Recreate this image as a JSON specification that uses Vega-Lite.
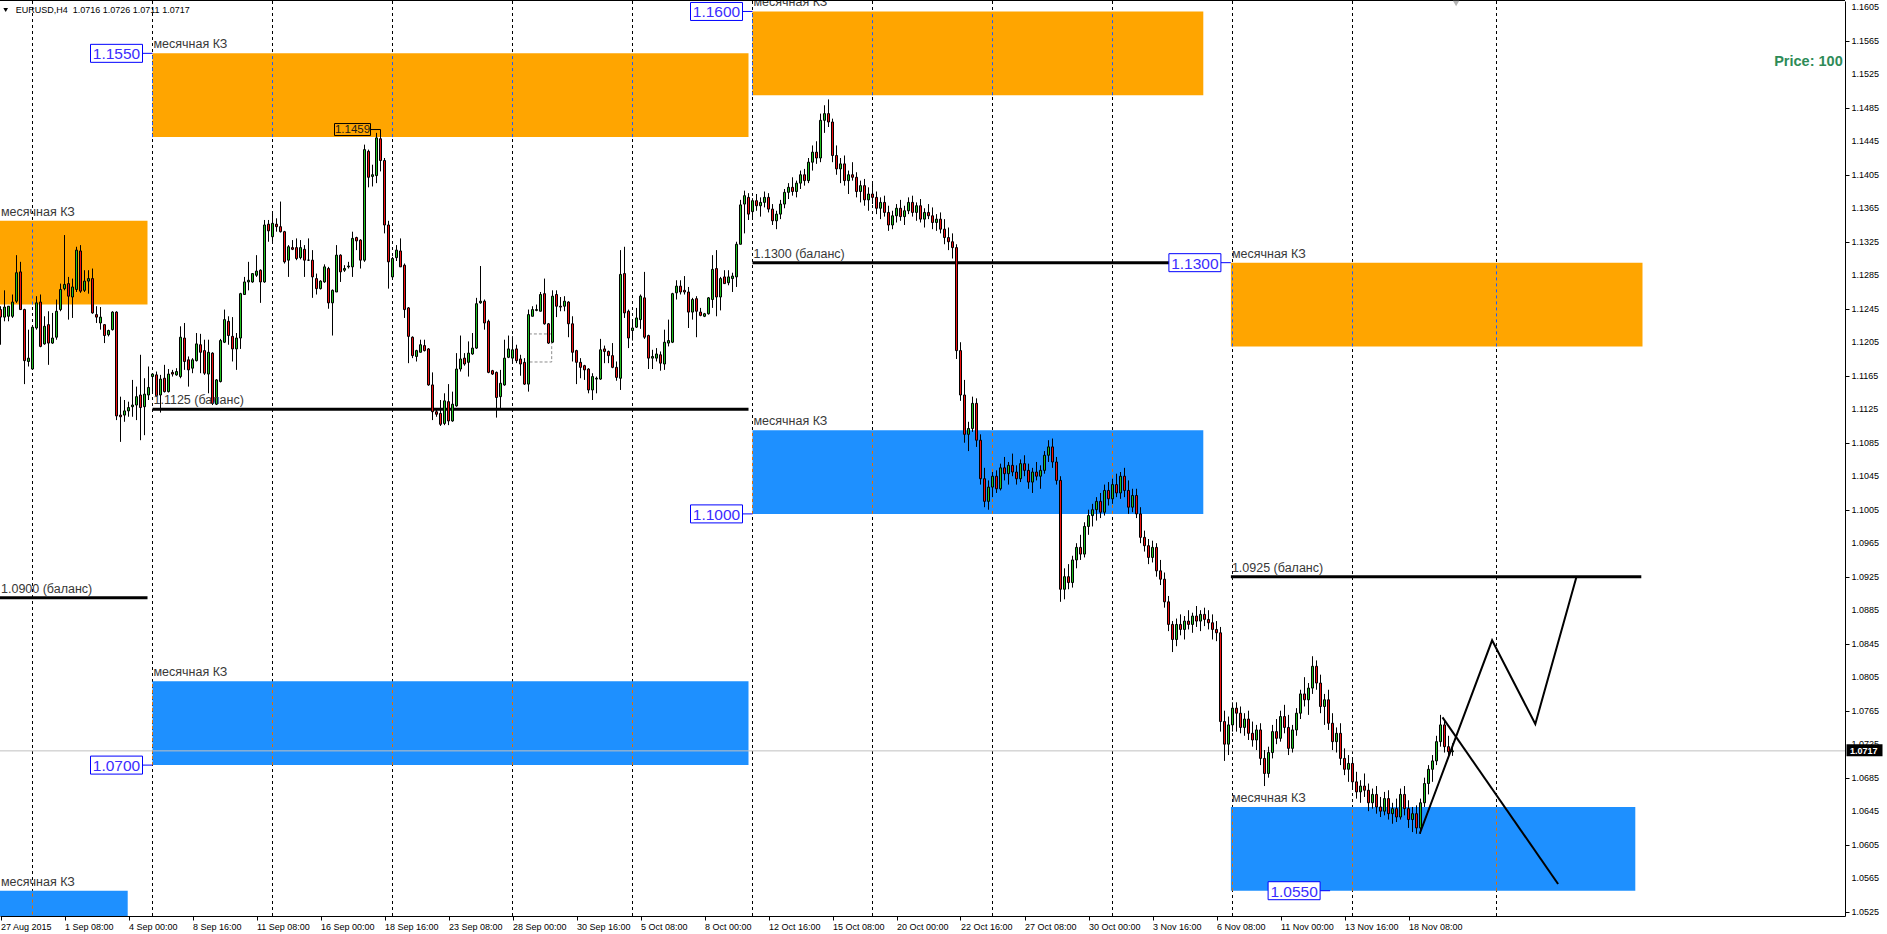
{
  "$schema": "https://vega.github.io/schema/vega-lite/v6.json",
  "width": 1845,
  "height": 915,
  "autosize": {"type": "none"},
  "padding": {"left": 0, "top": 1, "right": 42, "bottom": 18},
  "background": "#ffffff",
  "config": {
    "view": {"stroke": null},
    "text": {"font": "Liberation Sans"},
    "scale": {"continuousPadding": 0},
    "axis": {"labelOverlap": false, "labelBound": false, "labelFlush": false, "grid": false, "title": null},
    "axisY": {"labelOverlap": false, "labelSeparation": 0},
    "axisX": {"labelOverlap": false}
  },
  "datasets": {
    "bars": [
      {"i":0,"o":1.1244,"h":1.1248,"l":1.1202,"c":1.1235},{"i":1,"o":1.1235,"h":1.1267,"l":1.123,"c":1.1247},{"i":2,"o":1.1236,"h":1.1248,"l":1.123,"c":1.1248},{"i":3,"o":1.1236,"h":1.1262,"l":1.1234,"c":1.1253},{"i":4,"o":1.1254,"h":1.1309,"l":1.1252,"c":1.1288},{"i":5,"o":1.1289,"h":1.1301,"l":1.1244,"c":1.1244},{"i":6,"o":1.1244,"h":1.1245,"l":1.1155,"c":1.1183},{"i":7,"o":1.1182,"h":1.122,"l":1.1176,"c":1.1186},{"i":8,"o":1.1173,"h":1.1224,"l":1.1172,"c":1.1223},{"i":9,"o":1.1222,"h":1.126,"l":1.122,"c":1.1252},
      {"i":10,"o":1.1253,"h":1.1262,"l":1.1199,"c":1.12},{"i":11,"o":1.1203,"h":1.1236,"l":1.1202,"c":1.1224},{"i":12,"o":1.1226,"h":1.1242,"l":1.1178,"c":1.1204},{"i":13,"o":1.1204,"h":1.124,"l":1.1203,"c":1.121},{"i":14,"o":1.1211,"h":1.1256,"l":1.1208,"c":1.1242},{"i":15,"o":1.1244,"h":1.1275,"l":1.1242,"c":1.1268},{"i":16,"o":1.1269,"h":1.1333,"l":1.1267,"c":1.1274},{"i":17,"o":1.1275,"h":1.1283,"l":1.1232,"c":1.126},{"i":18,"o":1.1259,"h":1.1281,"l":1.1234,"c":1.1271},{"i":19,"o":1.1268,"h":1.1319,"l":1.1265,"c":1.1315},
      {"i":20,"o":1.1314,"h":1.1321,"l":1.1264,"c":1.1266},{"i":21,"o":1.1267,"h":1.1291,"l":1.1265,"c":1.1278},{"i":22,"o":1.1278,"h":1.1291,"l":1.1263,"c":1.1281},{"i":23,"o":1.1281,"h":1.1293,"l":1.1239,"c":1.124},{"i":24,"o":1.1238,"h":1.1248,"l":1.1228,"c":1.1235},{"i":25,"o":1.1228,"h":1.1247,"l":1.122,"c":1.1235},{"i":26,"o":1.1226,"h":1.1226,"l":1.1204,"c":1.1213},{"i":27,"o":1.1214,"h":1.122,"l":1.1212,"c":1.1219},{"i":28,"o":1.122,"h":1.1242,"l":1.1219,"c":1.1241},{"i":29,"o":1.1241,"h":1.1242,"l":1.1112,"c":1.1117},
      {"i":30,"o":1.1118,"h":1.114,"l":1.1086,"c":1.1116},{"i":31,"o":1.1118,"h":1.1136,"l":1.111,"c":1.1123},{"i":32,"o":1.1123,"h":1.1134,"l":1.1116,"c":1.1127},{"i":33,"o":1.1128,"h":1.116,"l":1.1116,"c":1.113},{"i":34,"o":1.113,"h":1.1152,"l":1.1112,"c":1.114},{"i":35,"o":1.1142,"h":1.119,"l":1.1088,"c":1.1127},{"i":36,"o":1.1128,"h":1.1162,"l":1.1094,"c":1.1143},{"i":37,"o":1.1142,"h":1.1176,"l":1.1136,"c":1.1151},{"i":38,"o":1.1164,"h":1.1168,"l":1.1144,"c":1.1167},{"i":39,"o":1.1166,"h":1.117,"l":1.114,"c":1.1141},
      {"i":40,"o":1.1142,"h":1.1166,"l":1.1121,"c":1.1161},{"i":41,"o":1.1162,"h":1.1178,"l":1.1145,"c":1.1146},{"i":42,"o":1.1146,"h":1.1173,"l":1.1145,"c":1.1167},{"i":43,"o":1.1169,"h":1.1172,"l":1.1164,"c":1.1167},{"i":44,"o":1.1166,"h":1.1174,"l":1.1165,"c":1.117},{"i":45,"o":1.1164,"h":1.1224,"l":1.1162,"c":1.1211},{"i":46,"o":1.121,"h":1.1228,"l":1.1172,"c":1.1182},{"i":47,"o":1.1184,"h":1.1188,"l":1.1152,"c":1.1172},{"i":48,"o":1.1174,"h":1.1186,"l":1.1168,"c":1.1184},{"i":49,"o":1.1183,"h":1.1216,"l":1.1182,"c":1.1203},
      {"i":50,"o":1.1202,"h":1.1215,"l":1.1168,"c":1.1193},{"i":51,"o":1.1195,"h":1.1208,"l":1.1166,"c":1.1168},{"i":52,"o":1.1167,"h":1.1208,"l":1.1144,"c":1.1193},{"i":53,"o":1.1192,"h":1.1193,"l":1.113,"c":1.1132},{"i":54,"o":1.1131,"h":1.1161,"l":1.113,"c":1.116},{"i":55,"o":1.1158,"h":1.1209,"l":1.1157,"c":1.1207},{"i":56,"o":1.1205,"h":1.1244,"l":1.1204,"c":1.1232},{"i":57,"o":1.123,"h":1.1236,"l":1.1202,"c":1.1213},{"i":58,"o":1.1212,"h":1.1235,"l":1.1182,"c":1.1197},{"i":59,"o":1.1197,"h":1.1216,"l":1.1172,"c":1.121},
      {"i":60,"o":1.121,"h":1.1264,"l":1.1197,"c":1.1263},{"i":61,"o":1.1262,"h":1.1283,"l":1.1262,"c":1.1277},{"i":62,"o":1.1277,"h":1.1301,"l":1.1267,"c":1.1279},{"i":63,"o":1.1277,"h":1.1287,"l":1.1276,"c":1.1287},{"i":64,"o":1.1285,"h":1.1309,"l":1.1283,"c":1.129},{"i":65,"o":1.1291,"h":1.1292,"l":1.1252,"c":1.1277},{"i":66,"o":1.1277,"h":1.1351,"l":1.1276,"c":1.1345},{"i":67,"o":1.1346,"h":1.1351,"l":1.1325,"c":1.1338},{"i":68,"o":1.1331,"h":1.1361,"l":1.1323,"c":1.1347},{"i":69,"o":1.1346,"h":1.1353,"l":1.1337,"c":1.1343},
      {"i":70,"o":1.1343,"h":1.1373,"l":1.1336,"c":1.1337},{"i":71,"o":1.1337,"h":1.1338,"l":1.1299,"c":1.1301},{"i":72,"o":1.1303,"h":1.1321,"l":1.1283,"c":1.1319},{"i":73,"o":1.1318,"h":1.1327,"l":1.1315,"c":1.1316},{"i":74,"o":1.1318,"h":1.1329,"l":1.1303,"c":1.1305},{"i":75,"o":1.1306,"h":1.1327,"l":1.1304,"c":1.1318},{"i":76,"o":1.1316,"h":1.1321,"l":1.1283,"c":1.1303},{"i":77,"o":1.1303,"h":1.1329,"l":1.1302,"c":1.1303},{"i":78,"o":1.1303,"h":1.1315,"l":1.1258,"c":1.1283},{"i":79,"o":1.1281,"h":1.1287,"l":1.1262,"c":1.1269},
      {"i":80,"o":1.1269,"h":1.1279,"l":1.1268,"c":1.1278},{"i":81,"o":1.1277,"h":1.1298,"l":1.1276,"c":1.1295},{"i":82,"o":1.1293,"h":1.1295,"l":1.1245,"c":1.1252},{"i":83,"o":1.1252,"h":1.1268,"l":1.1213,"c":1.1267},{"i":84,"o":1.1265,"h":1.1321,"l":1.1265,"c":1.1309},{"i":85,"o":1.1309,"h":1.131,"l":1.1277,"c":1.1289},{"i":86,"o":1.1291,"h":1.1297,"l":1.1289,"c":1.1293},{"i":87,"o":1.1295,"h":1.1301,"l":1.1293,"c":1.1296},{"i":88,"o":1.1295,"h":1.1337,"l":1.1283,"c":1.1329},{"i":89,"o":1.133,"h":1.1331,"l":1.1315,"c":1.1326},
      {"i":90,"o":1.1327,"h":1.1328,"l":1.1293,"c":1.1303},{"i":91,"o":1.1303,"h":1.1441,"l":1.1301,"c":1.1435},{"i":92,"o":1.1433,"h":1.1435,"l":1.139,"c":1.1402},{"i":93,"o":1.1403,"h":1.1417,"l":1.1391,"c":1.1405},{"i":94,"o":1.1404,"h":1.1455,"l":1.1395,"c":1.1449},{"i":95,"o":1.1448,"h":1.1459,"l":1.1409,"c":1.1422},{"i":96,"o":1.1422,"h":1.1425,"l":1.1335,"c":1.1345},{"i":97,"o":1.1345,"h":1.135,"l":1.1269,"c":1.1301},{"i":98,"o":1.1283,"h":1.1307,"l":1.1281,"c":1.1305},{"i":99,"o":1.1306,"h":1.1321,"l":1.1302,"c":1.1315},
      {"i":100,"o":1.1314,"h":1.1329,"l":1.1295,"c":1.1295},{"i":101,"o":1.1297,"h":1.1299,"l":1.1234,"c":1.1244},{"i":102,"o":1.1246,"h":1.1247,"l":1.118,"c":1.1212},{"i":103,"o":1.1211,"h":1.1212,"l":1.1186,"c":1.1189},{"i":104,"o":1.1188,"h":1.1196,"l":1.1182,"c":1.1195},{"i":105,"o":1.1193,"h":1.1208,"l":1.1193,"c":1.1202},{"i":106,"o":1.1201,"h":1.1208,"l":1.1194,"c":1.1195},{"i":107,"o":1.1197,"h":1.1198,"l":1.1153,"c":1.1154},{"i":108,"o":1.1154,"h":1.1169,"l":1.1112,"c":1.1122},{"i":109,"o":1.1122,"h":1.1124,"l":1.1116,"c":1.1119},
      {"i":110,"o":1.112,"h":1.1136,"l":1.1105,"c":1.1107},{"i":111,"o":1.1108,"h":1.1144,"l":1.1106,"c":1.1135},{"i":112,"o":1.1134,"h":1.1155,"l":1.1106,"c":1.1111},{"i":113,"o":1.1111,"h":1.1146,"l":1.111,"c":1.1131},{"i":114,"o":1.1129,"h":1.1192,"l":1.1128,"c":1.1173},{"i":115,"o":1.1173,"h":1.1213,"l":1.117,"c":1.1185},{"i":116,"o":1.1186,"h":1.1192,"l":1.1177,"c":1.1179},{"i":117,"o":1.1181,"h":1.1206,"l":1.1164,"c":1.1192},{"i":118,"o":1.1191,"h":1.1216,"l":1.119,"c":1.1198},{"i":119,"o":1.1198,"h":1.1258,"l":1.1197,"c":1.1251},
      {"i":120,"o":1.1252,"h":1.1296,"l":1.1251,"c":1.1254},{"i":121,"o":1.1254,"h":1.1256,"l":1.122,"c":1.1228},{"i":122,"o":1.123,"h":1.1232,"l":1.1168,"c":1.1169},{"i":123,"o":1.1171,"h":1.1172,"l":1.1166,"c":1.1167},{"i":124,"o":1.1169,"h":1.117,"l":1.1115,"c":1.1139},{"i":125,"o":1.114,"h":1.1172,"l":1.1126,"c":1.1156},{"i":126,"o":1.1154,"h":1.1208,"l":1.1153,"c":1.1186},{"i":127,"o":1.1187,"h":1.1213,"l":1.1186,"c":1.1197},{"i":128,"o":1.1186,"h":1.1212,"l":1.1181,"c":1.1196},{"i":129,"o":1.1197,"h":1.1202,"l":1.118,"c":1.1183},
      {"i":130,"o":1.1185,"h":1.119,"l":1.1165,"c":1.1179},{"i":131,"o":1.1181,"h":1.1186,"l":1.1154,"c":1.1155},{"i":132,"o":1.1155,"h":1.1244,"l":1.1146,"c":1.1238},{"i":133,"o":1.1236,"h":1.1248,"l":1.1236,"c":1.1244},{"i":134,"o":1.1243,"h":1.125,"l":1.1242,"c":1.1244},{"i":135,"o":1.1242,"h":1.1265,"l":1.1242,"c":1.1262},{"i":136,"o":1.1263,"h":1.1281,"l":1.1226,"c":1.1227},{"i":137,"o":1.1227,"h":1.1228,"l":1.1203,"c":1.1204},{"i":138,"o":1.1205,"h":1.1267,"l":1.1204,"c":1.126},{"i":139,"o":1.1262,"h":1.1267,"l":1.1235,"c":1.1248},
      {"i":140,"o":1.1248,"h":1.1259,"l":1.1242,"c":1.1247},{"i":141,"o":1.1248,"h":1.126,"l":1.1242,"c":1.1254},{"i":142,"o":1.1253,"h":1.1254,"l":1.1211,"c":1.1227},{"i":143,"o":1.1227,"h":1.1236,"l":1.1182,"c":1.1193},{"i":144,"o":1.1195,"h":1.1196,"l":1.1155,"c":1.1181},{"i":145,"o":1.1181,"h":1.1186,"l":1.1162,"c":1.1175},{"i":146,"o":1.1177,"h":1.1178,"l":1.116,"c":1.1172},{"i":147,"o":1.1173,"h":1.1174,"l":1.1144,"c":1.1148},{"i":148,"o":1.1148,"h":1.1168,"l":1.1136,"c":1.1164},{"i":149,"o":1.1161,"h":1.1164,"l":1.1144,"c":1.1162},
      {"i":150,"o":1.1161,"h":1.1209,"l":1.116,"c":1.1196},{"i":151,"o":1.1197,"h":1.1201,"l":1.118,"c":1.1194},{"i":152,"o":1.1194,"h":1.1195,"l":1.118,"c":1.1189},{"i":153,"o":1.1189,"h":1.1204,"l":1.1174,"c":1.1175},{"i":154,"o":1.1175,"h":1.1182,"l":1.1159,"c":1.1163},{"i":155,"o":1.1162,"h":1.1315,"l":1.1148,"c":1.1286},{"i":156,"o":1.1287,"h":1.1319,"l":1.1234,"c":1.124},{"i":157,"o":1.1242,"h":1.1244,"l":1.1198,"c":1.121},{"i":158,"o":1.1219,"h":1.1232,"l":1.1207,"c":1.1222},{"i":159,"o":1.1223,"h":1.1246,"l":1.1222,"c":1.1234},
      {"i":160,"o":1.1232,"h":1.1262,"l":1.1221,"c":1.126},{"i":161,"o":1.1258,"h":1.1289,"l":1.1209,"c":1.1211},{"i":162,"o":1.1213,"h":1.1214,"l":1.1173,"c":1.1186},{"i":163,"o":1.1186,"h":1.1196,"l":1.1173,"c":1.1188},{"i":164,"o":1.1186,"h":1.1198,"l":1.1182,"c":1.1191},{"i":165,"o":1.119,"h":1.1194,"l":1.1171,"c":1.118},{"i":166,"o":1.1179,"h":1.122,"l":1.1172,"c":1.1205},{"i":167,"o":1.1204,"h":1.1232,"l":1.12,"c":1.1207},{"i":168,"o":1.1205,"h":1.1264,"l":1.1204,"c":1.1263},{"i":169,"o":1.1264,"h":1.1279,"l":1.1256,"c":1.1272},
      {"i":170,"o":1.1272,"h":1.1279,"l":1.1262,"c":1.1265},{"i":171,"o":1.1267,"h":1.1284,"l":1.1262,"c":1.1265},{"i":172,"o":1.1265,"h":1.1271,"l":1.1222,"c":1.1241},{"i":173,"o":1.1241,"h":1.1258,"l":1.1232,"c":1.1256},{"i":174,"o":1.1257,"h":1.126,"l":1.1211,"c":1.1242},{"i":175,"o":1.1241,"h":1.1246,"l":1.1236,"c":1.1237},{"i":176,"o":1.1236,"h":1.124,"l":1.1235,"c":1.1239},{"i":177,"o":1.1239,"h":1.1259,"l":1.1238,"c":1.1258},{"i":178,"o":1.1256,"h":1.1309,"l":1.1246,"c":1.1292},{"i":179,"o":1.1293,"h":1.1315,"l":1.1236,"c":1.1259},
      {"i":180,"o":1.1259,"h":1.1283,"l":1.1243,"c":1.1281},{"i":181,"o":1.1283,"h":1.1291,"l":1.1275,"c":1.1275},{"i":182,"o":1.1276,"h":1.1291,"l":1.1273,"c":1.1283},{"i":183,"o":1.1281,"h":1.1288,"l":1.1265,"c":1.1284},{"i":184,"o":1.1283,"h":1.1325,"l":1.1271,"c":1.1322},{"i":185,"o":1.1322,"h":1.1375,"l":1.1322,"c":1.1369},{"i":186,"o":1.137,"h":1.1386,"l":1.1335,"c":1.138},{"i":187,"o":1.1378,"h":1.1383,"l":1.1351,"c":1.1358},{"i":188,"o":1.1361,"h":1.1377,"l":1.1352,"c":1.1374},{"i":189,"o":1.1374,"h":1.1382,"l":1.1362,"c":1.1368},
      {"i":190,"o":1.1368,"h":1.1378,"l":1.1355,"c":1.1372},{"i":191,"o":1.1372,"h":1.1385,"l":1.1366,"c":1.1378},{"i":192,"o":1.1378,"h":1.1383,"l":1.136,"c":1.1364},{"i":193,"o":1.1364,"h":1.137,"l":1.1345,"c":1.135},{"i":194,"o":1.135,"h":1.1362,"l":1.134,"c":1.1358},{"i":195,"o":1.1358,"h":1.1375,"l":1.1352,"c":1.137},{"i":196,"o":1.137,"h":1.1388,"l":1.1365,"c":1.1384},{"i":197,"o":1.1384,"h":1.1395,"l":1.1376,"c":1.139},{"i":198,"o":1.139,"h":1.1402,"l":1.138,"c":1.1385},{"i":199,"o":1.1385,"h":1.1398,"l":1.1378,"c":1.1395},
      {"i":200,"o":1.1395,"h":1.141,"l":1.1388,"c":1.1405},{"i":201,"o":1.1405,"h":1.1412,"l":1.1392,"c":1.1398},{"i":202,"o":1.1398,"h":1.1425,"l":1.1395,"c":1.142},{"i":203,"o":1.142,"h":1.144,"l":1.141,"c":1.1432},{"i":204,"o":1.1432,"h":1.1445,"l":1.1418,"c":1.1425},{"i":205,"o":1.1425,"h":1.1478,"l":1.142,"c":1.147},{"i":206,"o":1.147,"h":1.1488,"l":1.1455,"c":1.1478},{"i":207,"o":1.1478,"h":1.1495,"l":1.1462,"c":1.1468},{"i":208,"o":1.1468,"h":1.1472,"l":1.142,"c":1.1428},{"i":209,"o":1.1428,"h":1.144,"l":1.1405,"c":1.1412},
      {"i":210,"o":1.1412,"h":1.1425,"l":1.1395,"c":1.1418},{"i":211,"o":1.1418,"h":1.1428,"l":1.1392,"c":1.1398},{"i":212,"o":1.1398,"h":1.141,"l":1.1382,"c":1.1405},{"i":213,"o":1.1405,"h":1.142,"l":1.1398,"c":1.1402},{"i":214,"o":1.1402,"h":1.1408,"l":1.1378,"c":1.1385},{"i":215,"o":1.1385,"h":1.1398,"l":1.1372,"c":1.1392},{"i":216,"o":1.1392,"h":1.14,"l":1.1368,"c":1.1375},{"i":217,"o":1.1375,"h":1.139,"l":1.1362,"c":1.1382},{"i":218,"o":1.1382,"h":1.1395,"l":1.137,"c":1.1378},{"i":219,"o":1.1378,"h":1.1385,"l":1.1358,"c":1.1365},
      {"i":220,"o":1.1365,"h":1.1378,"l":1.1352,"c":1.1372},{"i":221,"o":1.1372,"h":1.138,"l":1.1355,"c":1.136},{"i":222,"o":1.136,"h":1.1368,"l":1.1338,"c":1.1345},{"i":223,"o":1.1345,"h":1.1362,"l":1.134,"c":1.1356},{"i":224,"o":1.1356,"h":1.137,"l":1.1348,"c":1.1365},{"i":225,"o":1.1365,"h":1.1375,"l":1.135,"c":1.1355},{"i":226,"o":1.1355,"h":1.1368,"l":1.1345,"c":1.1362},{"i":227,"o":1.1362,"h":1.1378,"l":1.1358,"c":1.1372},{"i":228,"o":1.1372,"h":1.138,"l":1.1355,"c":1.136},{"i":229,"o":1.136,"h":1.1372,"l":1.135,"c":1.1368},
      {"i":230,"o":1.1368,"h":1.1376,"l":1.1348,"c":1.1352},{"i":231,"o":1.1352,"h":1.1365,"l":1.1342,"c":1.136},{"i":232,"o":1.136,"h":1.137,"l":1.1352,"c":1.1356},{"i":233,"o":1.1356,"h":1.1366,"l":1.134,"c":1.1348},{"i":234,"o":1.1348,"h":1.1358,"l":1.1338,"c":1.1352},{"i":235,"o":1.1352,"h":1.136,"l":1.1335,"c":1.134},{"i":236,"o":1.134,"h":1.1352,"l":1.1322,"c":1.133},{"i":237,"o":1.133,"h":1.1342,"l":1.1315,"c":1.1325},{"i":238,"o":1.1325,"h":1.1335,"l":1.1305,"c":1.1318},{"i":239,"o":1.1318,"h":1.1322,"l":1.1185,"c":1.1195},
      {"i":240,"o":1.1195,"h":1.1205,"l":1.1135,"c":1.1142},{"i":241,"o":1.1142,"h":1.116,"l":1.1085,"c":1.1095},{"i":242,"o":1.1095,"h":1.111,"l":1.1075,"c":1.1102},{"i":243,"o":1.1102,"h":1.114,"l":1.1098,"c":1.1132},{"i":244,"o":1.1132,"h":1.1138,"l":1.108,"c":1.1088},{"i":245,"o":1.1088,"h":1.1095,"l":1.1035,"c":1.1042},{"i":246,"o":1.1042,"h":1.1055,"l":1.1008,"c":1.1015},{"i":247,"o":1.1015,"h":1.104,"l":1.1005,"c":1.1032},{"i":248,"o":1.1032,"h":1.105,"l":1.102,"c":1.1045},{"i":249,"o":1.1045,"h":1.1052,"l":1.1025,"c":1.103},
      {"i":250,"o":1.103,"h":1.106,"l":1.1028,"c":1.1055},{"i":251,"o":1.1055,"h":1.1068,"l":1.104,"c":1.1048},{"i":252,"o":1.1048,"h":1.1062,"l":1.1035,"c":1.1058},{"i":253,"o":1.1058,"h":1.1072,"l":1.1045,"c":1.105},{"i":254,"o":1.105,"h":1.1058,"l":1.1035,"c":1.1042},{"i":255,"o":1.1042,"h":1.1065,"l":1.1038,"c":1.106},{"i":256,"o":1.106,"h":1.107,"l":1.1045,"c":1.1052},{"i":257,"o":1.1052,"h":1.106,"l":1.103,"c":1.1038},{"i":258,"o":1.1038,"h":1.1055,"l":1.1025,"c":1.105},{"i":259,"o":1.105,"h":1.1062,"l":1.104,"c":1.1045},
      {"i":260,"o":1.1045,"h":1.1058,"l":1.103,"c":1.1052},{"i":261,"o":1.1052,"h":1.1075,"l":1.1048,"c":1.107},{"i":262,"o":1.107,"h":1.1088,"l":1.1062,"c":1.108},{"i":263,"o":1.108,"h":1.109,"l":1.1055,"c":1.1062},{"i":264,"o":1.1062,"h":1.1068,"l":1.1035,"c":1.104},{"i":265,"o":1.104,"h":1.1045,"l":1.0895,"c":1.091},{"i":266,"o":1.091,"h":1.0935,"l":1.0898,"c":1.0925},{"i":267,"o":1.0925,"h":1.094,"l":1.091,"c":1.0918},{"i":268,"o":1.0918,"h":1.095,"l":1.0912,"c":1.0945},{"i":269,"o":1.0945,"h":1.0965,"l":1.0935,"c":1.096},
      {"i":270,"o":1.096,"h":1.0975,"l":1.0945,"c":1.0952},{"i":271,"o":1.0952,"h":1.099,"l":1.0948,"c":1.0985},{"i":272,"o":1.0985,"h":1.1005,"l":1.0975,"c":1.0998},{"i":273,"o":1.0998,"h":1.1012,"l":1.0985,"c":1.1005},{"i":274,"o":1.1005,"h":1.102,"l":1.0992,"c":1.1015},{"i":275,"o":1.1015,"h":1.1025,"l":1.0995,"c":1.1002},{"i":276,"o":1.1002,"h":1.1035,"l":1.0998,"c":1.1028},{"i":277,"o":1.1028,"h":1.1038,"l":1.101,"c":1.1018},{"i":278,"o":1.1018,"h":1.1042,"l":1.1012,"c":1.1035},{"i":279,"o":1.1035,"h":1.1048,"l":1.102,"c":1.1025},
      {"i":280,"o":1.1025,"h":1.105,"l":1.1018,"c":1.1045},{"i":281,"o":1.1045,"h":1.1055,"l":1.102,"c":1.1028},{"i":282,"o":1.1028,"h":1.104,"l":1.1,"c":1.1008},{"i":283,"o":1.1008,"h":1.103,"l":1.1002,"c":1.1022},{"i":284,"o":1.1022,"h":1.103,"l":1.0995,"c":1.1},{"i":285,"o":1.1,"h":1.1008,"l":1.0965,"c":1.0972},{"i":286,"o":1.0972,"h":1.098,"l":1.0955,"c":1.0962},{"i":287,"o":1.0962,"h":1.097,"l":1.094,"c":1.0948},{"i":288,"o":1.0948,"h":1.0968,"l":1.0942,"c":1.096},{"i":289,"o":1.096,"h":1.0965,"l":1.0925,"c":1.0932},
      {"i":290,"o":1.0932,"h":1.0945,"l":1.0915,"c":1.0922},{"i":291,"o":1.0922,"h":1.093,"l":1.0888,"c":1.0895},{"i":292,"o":1.0895,"h":1.0902,"l":1.086,"c":1.0868},{"i":293,"o":1.0868,"h":1.0872,"l":1.0835,"c":1.085},{"i":294,"o":1.085,"h":1.0875,"l":1.0842,"c":1.0868},{"i":295,"o":1.0868,"h":1.088,"l":1.0855,"c":1.0862},{"i":296,"o":1.0862,"h":1.0878,"l":1.085,"c":1.0872},{"i":297,"o":1.0872,"h":1.0885,"l":1.0862,"c":1.0868},{"i":298,"o":1.0868,"h":1.0882,"l":1.0858,"c":1.0878},{"i":299,"o":1.0878,"h":1.089,"l":1.0865,"c":1.0872},
      {"i":300,"o":1.0872,"h":1.0885,"l":1.086,"c":1.088},{"i":301,"o":1.088,"h":1.0888,"l":1.0866,"c":1.0874},{"i":302,"o":1.0874,"h":1.0885,"l":1.0862,"c":1.087},{"i":303,"o":1.087,"h":1.088,"l":1.085,"c":1.0862},{"i":304,"o":1.0862,"h":1.0872,"l":1.0848,"c":1.0858},{"i":305,"o":1.0858,"h":1.0865,"l":1.074,"c":1.0752},{"i":306,"o":1.0752,"h":1.0765,"l":1.0705,"c":1.0725},{"i":307,"o":1.0725,"h":1.0758,"l":1.0712,"c":1.0748},{"i":308,"o":1.0748,"h":1.0775,"l":1.074,"c":1.0768},{"i":309,"o":1.0768,"h":1.0775,"l":1.074,"c":1.0762},
      {"i":310,"o":1.0762,"h":1.077,"l":1.0738,"c":1.0745},{"i":311,"o":1.0745,"h":1.0762,"l":1.0735,"c":1.0755},{"i":312,"o":1.0755,"h":1.0765,"l":1.073,"c":1.0738},{"i":313,"o":1.0738,"h":1.0752,"l":1.0722,"c":1.073},{"i":314,"o":1.073,"h":1.0748,"l":1.0718,"c":1.0742},{"i":315,"o":1.0742,"h":1.075,"l":1.07,"c":1.0708},{"i":316,"o":1.0708,"h":1.0718,"l":1.0675,"c":1.069},{"i":317,"o":1.069,"h":1.0722,"l":1.0685,"c":1.0715},{"i":318,"o":1.0715,"h":1.0748,"l":1.0708,"c":1.074},{"i":319,"o":1.074,"h":1.0755,"l":1.0725,"c":1.0732},
      {"i":320,"o":1.0732,"h":1.0765,"l":1.0728,"c":1.0758},{"i":321,"o":1.0758,"h":1.0772,"l":1.0738,"c":1.0745},{"i":322,"o":1.0745,"h":1.076,"l":1.0712,"c":1.072},{"i":323,"o":1.072,"h":1.0748,"l":1.0715,"c":1.0742},{"i":324,"o":1.0742,"h":1.0768,"l":1.0735,"c":1.0762},{"i":325,"o":1.0762,"h":1.079,"l":1.0755,"c":1.0785},{"i":326,"o":1.0785,"h":1.0805,"l":1.077,"c":1.0778},{"i":327,"o":1.0778,"h":1.0798,"l":1.076,"c":1.0792},{"i":328,"o":1.0792,"h":1.083,"l":1.0785,"c":1.0818},{"i":329,"o":1.0818,"h":1.0825,"l":1.079,"c":1.0798},
      {"i":330,"o":1.0798,"h":1.0808,"l":1.0762,"c":1.077},{"i":331,"o":1.077,"h":1.0785,"l":1.0748,"c":1.0778},{"i":332,"o":1.0778,"h":1.079,"l":1.0742,"c":1.075},{"i":333,"o":1.075,"h":1.0762,"l":1.0718,"c":1.0728},{"i":334,"o":1.0728,"h":1.0745,"l":1.0715,"c":1.0738},{"i":335,"o":1.0738,"h":1.075,"l":1.07,"c":1.0708},{"i":336,"o":1.0708,"h":1.072,"l":1.0688,"c":1.0695},{"i":337,"o":1.0695,"h":1.0712,"l":1.068,"c":1.0702},{"i":338,"o":1.0702,"h":1.0708,"l":1.0672,"c":1.068},{"i":339,"o":1.068,"h":1.0692,"l":1.066,"c":1.0668},
      {"i":340,"o":1.0668,"h":1.0682,"l":1.0655,"c":1.0675},{"i":341,"o":1.0675,"h":1.069,"l":1.0662,"c":1.067},{"i":342,"o":1.067,"h":1.0678,"l":1.0645,"c":1.0655},{"i":343,"o":1.0655,"h":1.0672,"l":1.0648,"c":1.0665},{"i":344,"o":1.0665,"h":1.0675,"l":1.0642,"c":1.065},{"i":345,"o":1.065,"h":1.0662,"l":1.0638,"c":1.0645},{"i":346,"o":1.0645,"h":1.0668,"l":1.064,"c":1.066},{"i":347,"o":1.066,"h":1.067,"l":1.0635,"c":1.0642},{"i":348,"o":1.0642,"h":1.0655,"l":1.063,"c":1.0648},{"i":349,"o":1.0648,"h":1.066,"l":1.0632,"c":1.0638},
      {"i":350,"o":1.0638,"h":1.0672,"l":1.0635,"c":1.0665},{"i":351,"o":1.0665,"h":1.0675,"l":1.064,"c":1.0648},{"i":352,"o":1.0648,"h":1.0658,"l":1.0625,"c":1.0635},{"i":353,"o":1.0635,"h":1.065,"l":1.062,"c":1.0642},{"i":354,"o":1.0642,"h":1.0652,"l":1.0618,"c":1.0625},{"i":355,"o":1.0625,"h":1.066,"l":1.0618,"c":1.0655},{"i":356,"o":1.0655,"h":1.0685,"l":1.065,"c":1.0678},{"i":357,"o":1.0678,"h":1.07,"l":1.0665,"c":1.0695},{"i":358,"o":1.0695,"h":1.0712,"l":1.068,"c":1.0705},{"i":359,"o":1.0705,"h":1.0735,"l":1.07,"c":1.0728},
      {"i":360,"o":1.0728,"h":1.076,"l":1.0722,"c":1.0748},{"i":361,"o":1.0748,"h":1.0755,"l":1.0715,"c":1.0722},{"i":362,"o":1.0722,"h":1.0735,"l":1.0712,"c":1.0716},{"i":363,"o":1.0716,"h":1.0726,"l":1.0711,"c":1.0717}
    ],
    "zones": [
      {"z":"o","b0":-0.125,"b1":36.75,"p0":1.125,"p1":1.135},
      {"z":"b","b0":-0.125,"b1":31.8,"p0":1.05,"p1":1.055},
      {"z":"o","b0":38,"b1":187,"p0":1.145,"p1":1.155},
      {"z":"b","b0":38,"b1":187,"p0":1.07,"p1":1.08},
      {"z":"o","b0":188,"b1":300.7,"p0":1.15,"p1":1.16},
      {"z":"b","b0":188,"b1":300.7,"p0":1.1,"p1":1.11},
      {"z":"o","b0":307.6,"b1":410.5,"p0":1.12,"p1":1.13},
      {"z":"b","b0":307.6,"b1":408.7,"p0":1.055,"p1":1.065}
    ],
    "levels": [
      {"b0":-0.125,"b1":36.75,"p":1.09,"t":"1.0900 (баланс)"},
      {"b0":38,"b1":187,"p":1.1125,"t":"1.1125 (баланс)"},
      {"b0":188,"b1":300.7,"p":1.13,"t":"1.1300 (баланс)"},
      {"b0":307.6,"b1":410.2,"p":1.0925,"t":"1.0925 (баланс)"}
    ],
    "tags": [
      {"b":38,"p":1.155,"t":"1.1550"},
      {"b":38,"p":1.07,"t":"1.0700"},
      {"b":188,"p":1.16,"t":"1.1600"},
      {"b":188,"p":1.1,"t":"1.1000"},
      {"b":307.6,"p":1.13,"t":"1.1300"},
      {"b":332.4,"p":1.055,"t":"1.0550"}
    ],
    "ticksY": [
      {"p":1.0525,"t":"1.0525"},{"p":1.0565,"t":"1.0565"},{"p":1.0605,"t":"1.0605"},{"p":1.0645,"t":"1.0645"},{"p":1.0685,"t":"1.0685"},{"p":1.0725,"t":"1.0725"},{"p":1.0765,"t":"1.0765"},
      {"p":1.0805,"t":"1.0805"},{"p":1.0845,"t":"1.0845"},{"p":1.0885,"t":"1.0885"},{"p":1.0925,"t":"1.0925"},{"p":1.0965,"t":"1.0965"},{"p":1.1005,"t":"1.1005"},{"p":1.1045,"t":"1.1045"},
      {"p":1.1085,"t":"1.1085"},{"p":1.1125,"t":"1.1125"},{"p":1.1165,"t":"1.1165"},{"p":1.1205,"t":"1.1205"},{"p":1.1245,"t":"1.1245"},{"p":1.1285,"t":"1.1285"},{"p":1.1325,"t":"1.1325"},
      {"p":1.1365,"t":"1.1365"},{"p":1.1405,"t":"1.1405"},{"p":1.1445,"t":"1.1445"},{"p":1.1485,"t":"1.1485"},{"p":1.1525,"t":"1.1525"},{"p":1.1565,"t":"1.1565"},{"p":1.1605,"t":"1.1605"}
    ],
    "seps": [{"b":8},{"b":38},{"b":68},{"b":98},{"b":128},{"b":158},{"b":188},{"b":218},{"b":248},{"b":278},{"b":308},{"b":338},{"b":374}],
    "sepsOver": [
      {"b":8,"z":"o","p0":1.125,"p1":1.135},{"b":8,"z":"b","p0":1.05,"p1":1.055},
      {"b":38,"z":"o","p0":1.145,"p1":1.155},{"b":68,"z":"o","p0":1.145,"p1":1.155},{"b":98,"z":"o","p0":1.145,"p1":1.155},{"b":128,"z":"o","p0":1.145,"p1":1.155},{"b":158,"z":"o","p0":1.145,"p1":1.155},
      {"b":38,"z":"b","p0":1.07,"p1":1.08},{"b":68,"z":"b","p0":1.07,"p1":1.08},{"b":98,"z":"b","p0":1.07,"p1":1.08},{"b":128,"z":"b","p0":1.07,"p1":1.08},{"b":158,"z":"b","p0":1.07,"p1":1.08},
      {"b":188,"z":"o","p0":1.15,"p1":1.16},{"b":218,"z":"o","p0":1.15,"p1":1.16},{"b":248,"z":"o","p0":1.15,"p1":1.16},{"b":278,"z":"o","p0":1.15,"p1":1.16},
      {"b":188,"z":"b","p0":1.1,"p1":1.11},{"b":218,"z":"b","p0":1.1,"p1":1.11},{"b":248,"z":"b","p0":1.1,"p1":1.11},{"b":278,"z":"b","p0":1.1,"p1":1.11},
      {"b":308,"z":"o","p0":1.12,"p1":1.13},{"b":338,"z":"o","p0":1.12,"p1":1.13},{"b":374,"z":"o","p0":1.12,"p1":1.13},
      {"b":308,"z":"b","p0":1.055,"p1":1.065},{"b":338,"z":"b","p0":1.055,"p1":1.065},{"b":374,"z":"b","p0":1.055,"p1":1.065}
    ],
    "plan": [
      {"s":"up","k":0,"b":354.8,"p":1.0618},{"s":"up","k":1,"b":372.9,"p":1.0849},{"s":"up","k":2,"b":383.7,"p":1.0749},{"s":"up","k":3,"b":394.0,"p":1.0925},
      {"s":"down","k":0,"b":360.5,"p":1.0757},{"s":"down","k":1,"b":389.4,"p":1.0558}
    ],
    "ghost": [{"b0":132.1,"b1":137.8,"p0":1.11814,"p1":1.12149}],
    "peak": [{"b":95,"p":1.1459,"t":"1.1459"}],
    "quote": [{"sym":"EURUSD,H4\u00a0\u00a01.0716 1.0726 1.0711 1.0717","last":1.0717,"lastText":"1.0717","b":3.8,"p":1.15982}],
    "note": [{"t":"Price: 100","b":460.55,"p":1.15352}],
    "marker": [{"b":363.9,"p":1.16094}],
    "frame": [{"p":1.16125}]
  },
  "layer": [
    {
      "data": {"name": "seps"},
      "mark": {"type": "rule", "color": "#000000", "strokeWidth": 1, "strokeDash": [3, 3]},
      "encoding": {
        "x": {"field": "b", "type": "quantitative", "scale": {"domain": [-0.125, 461.125], "nice": false, "zero": false, "padding": 0},
          "axis": {"orient": "bottom", "title": null, "grid": false,
            "values": [0,16,32,48,64,80,96,112,128,144,160,176,192,208,224,240,256,272,288,304,320,336,352],
            "labelExpr": "['27 Aug 2015','1 Sep 08:00','4 Sep 00:00','8 Sep 16:00','11 Sep 08:00','16 Sep 00:00','18 Sep 16:00','23 Sep 08:00','28 Sep 00:00','30 Sep 16:00','5 Oct 08:00','8 Oct 00:00','12 Oct 16:00','15 Oct 08:00','20 Oct 00:00','22 Oct 16:00','27 Oct 08:00','30 Oct 00:00','3 Nov 16:00','6 Nov 08:00','11 Nov 00:00','13 Nov 16:00','18 Nov 08:00'][round(datum.value / 16)]",
            "domain": true, "ticks": true, "labels": true,
            "domainColor": "#000000", "domainWidth": 1, "tickColor": "#000000", "tickSize": 4, "tickWidth": 1,
            "labelColor": "#000000", "labelFont": "Liberation Sans", "labelFontSize": 9, "labelAlign": "left", "labelBaseline": "top",
            "labelPadding": 2, "labelOffset": 0, "labelOverlap": false, "labelBound": false, "labelFlush": false, "zindex": 1}}
      }
    },
    {
      "data": {"name": "zones"},
      "mark": {"type": "rect", "clip": true},
      "encoding": {
        "x": {"field": "b0", "type": "quantitative", "scale": {"domain": [-0.125, 461.125], "nice": false, "zero": false, "padding": 0}},
        "x2": {"field": "b1"},
        "y": {"field": "p0", "type": "quantitative", "scale": {"domain": [1.05198, 1.16125], "nice": false, "zero": false, "padding": 0},
          "axis": {"orient": "right", "title": null, "grid": false,
            "values": [1.0525,1.0565,1.0605,1.0645,1.0685,1.0725,1.0765,1.0805,1.0845,1.0885,1.0925,1.0965,1.1005,1.1045,1.1085,1.1125,1.1165,1.1205,1.1245,1.1285,1.1325,1.1365,1.1405,1.1445,1.1485,1.1525,1.1565,1.1605],
            "domain": true, "ticks": true, "labels": false,
            "domainColor": "#000000", "domainWidth": 1, "tickColor": "#000000", "tickSize": 4, "tickWidth": 1}},
        "y2": {"field": "p1"},
        "color": {"condition": {"test": "datum.z === 'o'", "value": "#ffa500"}, "value": "#1e90ff"}
      }
    },
    {
      "data": {"name": "sepsOver"},
      "mark": {"type": "rule", "strokeWidth": 1, "strokeDash": [3, 3], "clip": true},
      "encoding": {
        "x": {"field": "b", "type": "quantitative"},
        "y": {"field": "p0", "type": "quantitative"},
        "y2": {"field": "p1"},
        "color": {"condition": {"test": "datum.z === 'o'", "value": "#1a5cff"}, "value": "#e26f00"}
      }
    },
    {
      "data": {"name": "ghost"},
      "mark": {"type": "rect", "fill": null, "fillOpacity": 0, "stroke": "#8c8c8c", "strokeWidth": 1, "strokeDash": [3, 2]},
      "encoding": {
        "x": {"field": "b0", "type": "quantitative"},
        "x2": {"field": "b1"},
        "y": {"field": "p0", "type": "quantitative"},
        "y2": {"field": "p1"}
      }
    },
    {
      "data": {"name": "levels"},
      "mark": {"type": "rule", "color": "#000000", "strokeWidth": 3},
      "encoding": {
        "x": {"field": "b0", "type": "quantitative"},
        "x2": {"field": "b1"},
        "y": {"field": "p", "type": "quantitative"}
      }
    },
    {
      "data": {"name": "quote"},
      "mark": {"type": "rule", "color": "#c0c0c0", "strokeWidth": 1},
      "encoding": {
        "y": {"field": "last", "type": "quantitative"}
      }
    },
    {
      "data": {"name": "bars"},
      "mark": {"type": "rule", "color": "#000000", "strokeWidth": 1},
      "encoding": {
        "x": {"field": "i", "type": "quantitative"},
        "y": {"field": "l", "type": "quantitative"},
        "y2": {"field": "h"}
      }
    },
    {
      "data": {"name": "bars"},
      "mark": {"type": "bar", "size": 2, "stroke": "#000000", "strokeWidth": 1},
      "encoding": {
        "x": {"field": "i", "type": "quantitative"},
        "y": {"field": "o", "type": "quantitative"},
        "y2": {"field": "c"},
        "fill": {"condition": {"test": "datum.c >= datum.o", "value": "#1fc01f"}, "value": "#f01010"}
      }
    },
    {
      "data": {"name": "plan"},
      "mark": {"type": "line", "color": "#000000", "strokeWidth": 2},
      "encoding": {
        "x": {"field": "b", "type": "quantitative"},
        "y": {"field": "p", "type": "quantitative"},
        "detail": {"field": "s"},
        "order": {"field": "k", "type": "quantitative"}
      }
    },
    {
      "data": {"name": "zones"},
      "mark": {"type": "text", "text": "месячная КЗ", "font": "Liberation Sans", "fontSize": 12.5, "color": "#383838", "align": "left", "baseline": "alphabetic", "dx": 1, "dy": -5},
      "encoding": {
        "x": {"field": "b0", "type": "quantitative"},
        "y": {"field": "p1", "type": "quantitative"}
      }
    },
    {
      "data": {"name": "levels"},
      "mark": {"type": "text", "font": "Liberation Sans", "fontSize": 12.5, "color": "#383838", "align": "left", "baseline": "alphabetic", "dx": 1, "dy": -5},
      "encoding": {
        "x": {"field": "b0", "type": "quantitative"},
        "y": {"field": "p", "type": "quantitative"},
        "text": {"field": "t"}
      }
    },
    {
      "data": {"name": "tags"},
      "mark": {"type": "rule", "color": "#0000ff", "strokeWidth": 1, "xOffset": -10, "x2Offset": 0},
      "encoding": {
        "x": {"field": "b", "type": "quantitative"},
        "x2": {"field": "b"},
        "y": {"field": "p", "type": "quantitative"}
      }
    },
    {
      "data": {"name": "tags"},
      "mark": {"type": "rect", "fill": "#ffffff", "stroke": "#0000ff", "strokeWidth": 1, "xOffset": -62, "x2Offset": -10, "yOffset": -9, "y2Offset": 9},
      "encoding": {
        "x": {"field": "b", "type": "quantitative"},
        "x2": {"field": "b"},
        "y": {"field": "p", "type": "quantitative"},
        "y2": {"field": "p"}
      }
    },
    {
      "data": {"name": "tags"},
      "mark": {"type": "text", "font": "Liberation Sans", "fontSize": 15.5, "color": "#3b2cff", "align": "center", "baseline": "middle", "dx": -36, "dy": 1},
      "encoding": {
        "x": {"field": "b", "type": "quantitative"},
        "y": {"field": "p", "type": "quantitative"},
        "text": {"field": "t"}
      }
    },
    {
      "data": {"name": "peak"},
      "mark": {"type": "rule", "color": "#000000", "strokeWidth": 1, "xOffset": -10, "x2Offset": 0},
      "encoding": {
        "x": {"field": "b", "type": "quantitative"},
        "x2": {"field": "b"},
        "y": {"field": "p", "type": "quantitative"}
      }
    },
    {
      "data": {"name": "peak"},
      "mark": {"type": "rect", "fill": null, "fillOpacity": 0, "stroke": "#000000", "strokeWidth": 1, "xOffset": -46, "x2Offset": -10, "yOffset": -6, "y2Offset": 6},
      "encoding": {
        "x": {"field": "b", "type": "quantitative"},
        "x2": {"field": "b"},
        "y": {"field": "p", "type": "quantitative"},
        "y2": {"field": "p"}
      }
    },
    {
      "data": {"name": "peak"},
      "mark": {"type": "text", "font": "Liberation Sans", "fontSize": 11.5, "color": "#1a1a1a", "align": "center", "baseline": "middle", "dx": -28, "dy": 0.5},
      "encoding": {
        "x": {"field": "b", "type": "quantitative"},
        "y": {"field": "p", "type": "quantitative"},
        "text": {"field": "t"}
      }
    },
    {
      "data": {"name": "quote"},
      "mark": {"type": "point", "shape": "triangle-down", "filled": true, "color": "#000000", "size": 22, "opacity": 1, "xOffset": -10, "yOffset": -3},
      "encoding": {
        "x": {"field": "b", "type": "quantitative"},
        "y": {"field": "p", "type": "quantitative"}
      }
    },
    {
      "data": {"name": "quote"},
      "mark": {"type": "text", "font": "Liberation Sans", "fontSize": 9, "color": "#000000", "align": "left", "baseline": "alphabetic"},
      "encoding": {
        "x": {"field": "b", "type": "quantitative"},
        "y": {"field": "p", "type": "quantitative"},
        "text": {"field": "sym"}
      }
    },
    {
      "data": {"name": "note"},
      "mark": {"type": "text", "font": "Liberation Sans", "fontSize": 14.5, "fontWeight": "bold", "color": "#2e8b57", "align": "right", "baseline": "alphabetic"},
      "encoding": {
        "x": {"field": "b", "type": "quantitative"},
        "y": {"field": "p", "type": "quantitative"},
        "text": {"field": "t"}
      }
    },
    {
      "data": {"name": "ticksY"},
      "mark": {"type": "text", "font": "Liberation Sans", "fontSize": 9, "color": "#000000", "align": "left", "baseline": "middle", "dx": 6.5},
      "encoding": {
        "x": {"datum": 461.125, "type": "quantitative"},
        "y": {"field": "p", "type": "quantitative"},
        "text": {"field": "t"}
      }
    },
    {
      "data": {"name": "quote"},
      "mark": {"type": "rect", "color": "#000000", "xOffset": 1.5, "x2Offset": 37.5, "yOffset": -6.5, "y2Offset": 5.5},
      "encoding": {
        "x": {"datum": 461.125, "type": "quantitative"},
        "x2": {"datum": 461.125},
        "y": {"field": "last", "type": "quantitative"},
        "y2": {"field": "last"}
      }
    },
    {
      "data": {"name": "quote"},
      "mark": {"type": "text", "font": "Liberation Sans", "fontSize": 9, "fontWeight": "bold", "color": "#ffffff", "align": "left", "baseline": "middle", "dx": 5},
      "encoding": {
        "x": {"datum": 461.125, "type": "quantitative"},
        "y": {"field": "last", "type": "quantitative"},
        "text": {"field": "lastText"}
      }
    },
    {
      "data": {"name": "frame"},
      "mark": {"type": "rule", "color": "#000000", "strokeWidth": 1, "yOffset": -0.5},
      "encoding": {
        "y": {"field": "p", "type": "quantitative"}
      }
    },
    {
      "data": {"name": "marker"},
      "mark": {"type": "point", "shape": "triangle-down", "filled": true, "color": "#b4b4b4", "size": 40, "opacity": 1},
      "encoding": {
        "x": {"field": "b", "type": "quantitative"},
        "y": {"field": "p", "type": "quantitative"}
      }
    }
  ]
}
